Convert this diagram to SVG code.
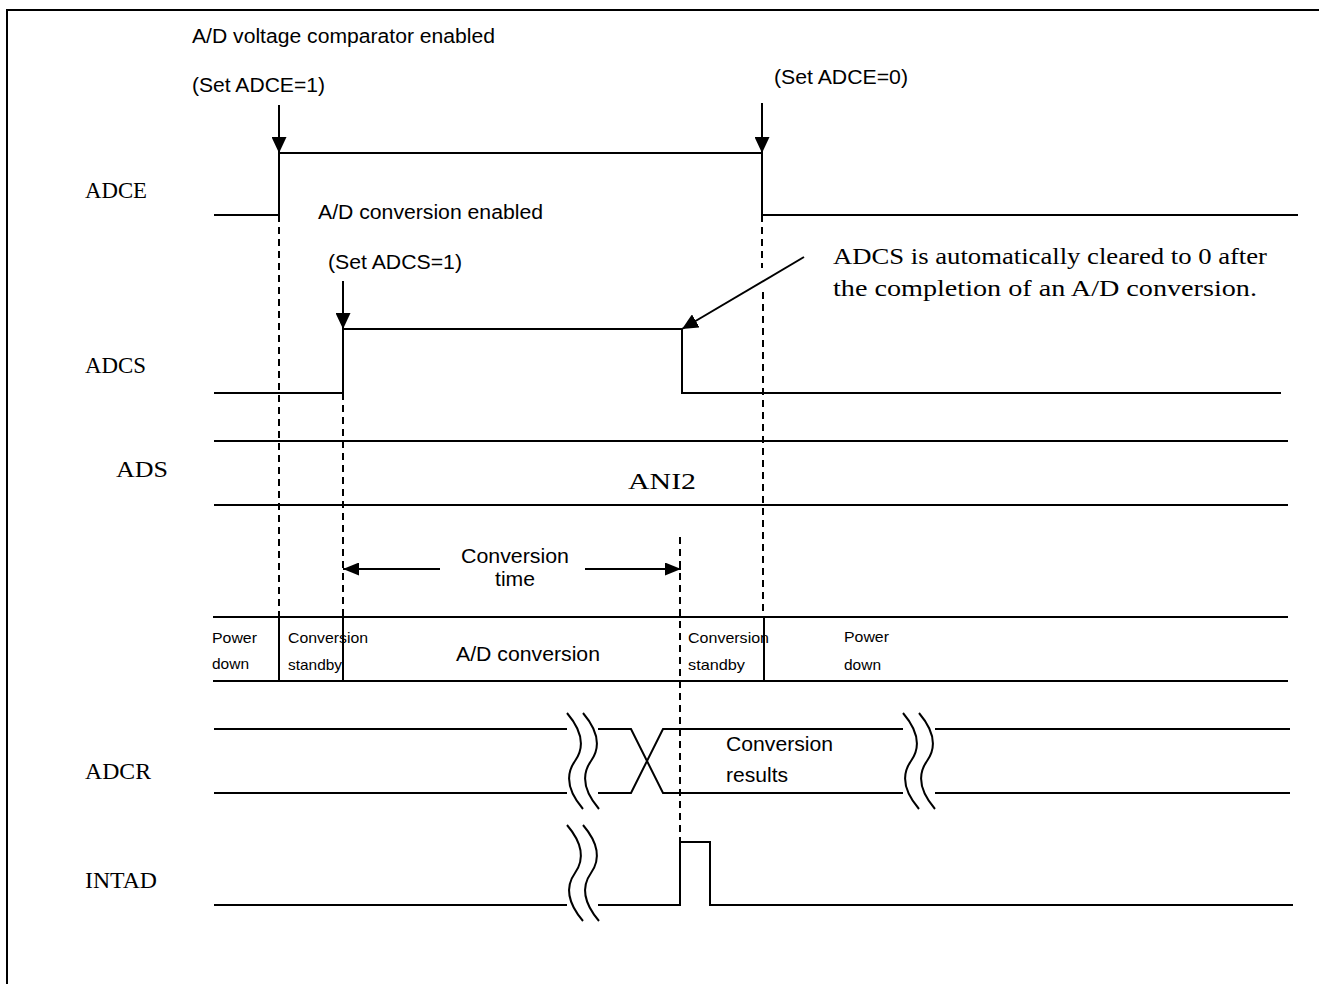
<svg xmlns="http://www.w3.org/2000/svg" width="1319" height="984" viewBox="0 0 1319 984">
<style>
.bg{fill:#fff}
.sig{fill:none;stroke:#000;stroke-width:2}
.dash{fill:none;stroke:#000;stroke-width:2;stroke-dasharray:7,5}
.arr{fill:none;stroke:#000;stroke-width:2}
.sans{font-family:"Liberation Sans",Arial,sans-serif;fill:#000}
.serif{font-family:"Liberation Serif","Times New Roman",serif;fill:#000}
.t20{font-size:20px}
.t15{font-size:15px}
.t21{font-size:21px}
.s24{font-size:24px}
</style>
<defs>
<marker id="ah" markerUnits="userSpaceOnUse" markerWidth="16" markerHeight="15" refX="16" refY="7.5" orient="auto">
<path d="M0,0 L16,7.5 L0,15 z" fill="#000"/>
</marker>
<marker id="ah2" markerUnits="userSpaceOnUse" markerWidth="16" markerHeight="13" refX="16" refY="6.5" orient="auto">
<path d="M0,0 L16,6.5 L0,13 z" fill="#000"/>
</marker>
</defs>
<rect class="bg" x="0" y="0" width="1319" height="984"/>
<path class="sig" d="M7,990 V10 H1325"/>

<g id="labels">
<text class="serif s24" x="85" y="198" textLength="62" lengthAdjust="spacingAndGlyphs">ADCE</text>
<text class="serif s24" x="85" y="373" textLength="61" lengthAdjust="spacingAndGlyphs">ADCS</text>
<text class="serif s24" x="116" y="477" textLength="52" lengthAdjust="spacingAndGlyphs">ADS</text>
<text class="serif s24" x="85" y="779" textLength="66" lengthAdjust="spacingAndGlyphs">ADCR</text>
<text class="serif s24" x="85" y="888" textLength="72" lengthAdjust="spacingAndGlyphs">INTAD</text>
</g>

<g id="node-adce">
<path class="sig" d="M214,215 H279 V153 H762 V215 H1298"/>
<text class="sans t20" x="192" y="43" textLength="303" lengthAdjust="spacingAndGlyphs">A/D voltage comparator enabled</text>
<text class="sans t20" x="192" y="92" textLength="133" lengthAdjust="spacingAndGlyphs">(Set ADCE=1)</text>
<text class="sans t20" x="774" y="84" textLength="134" lengthAdjust="spacingAndGlyphs">(Set ADCE=0)</text>
</g>

<g id="node-adcs">
<path class="sig" d="M214,393 H343 V329 H682 V393 H1281"/>
<text class="sans t20" x="318" y="219" textLength="225" lengthAdjust="spacingAndGlyphs">A/D conversion enabled</text>
<text class="sans t20" x="328" y="269" textLength="134" lengthAdjust="spacingAndGlyphs">(Set ADCS=1)</text>
<text class="serif s24" x="833" y="264" textLength="434" lengthAdjust="spacingAndGlyphs">ADCS is automatically cleared to 0 after</text>
<text class="serif s24" x="833" y="296" textLength="424" lengthAdjust="spacingAndGlyphs">the completion of an A/D conversion.</text>
</g>

<g id="node-ads">
<path class="sig" d="M214,441 H1288 M214,505 H1288"/>
<text class="serif s24" x="628" y="489" textLength="68" lengthAdjust="spacingAndGlyphs">ANI2</text>
</g>

<g id="node-state">
<path class="sig" d="M213,617 H1288 M213,681 H1288 M279,617 V681 M343,617 V681 M764,617 V681"/>
<text class="sans t15" x="212" y="643" textLength="45" lengthAdjust="spacingAndGlyphs">Power</text>
<text class="sans t15" x="212" y="669" textLength="37" lengthAdjust="spacingAndGlyphs">down</text>
<text class="sans t15" x="288" y="643" textLength="80" lengthAdjust="spacingAndGlyphs">Conversion</text>
<text class="sans t15" x="288" y="670" textLength="54" lengthAdjust="spacingAndGlyphs">standby</text>
<text class="sans t21" x="456" y="661" textLength="144" lengthAdjust="spacingAndGlyphs">A/D conversion</text>
<text class="sans t15" x="688" y="643" textLength="81" lengthAdjust="spacingAndGlyphs">Conversion</text>
<text class="sans t15" x="688" y="670" textLength="57" lengthAdjust="spacingAndGlyphs">standby</text>
<text class="sans t15" x="844" y="642" textLength="45" lengthAdjust="spacingAndGlyphs">Power</text>
<text class="sans t15" x="844" y="670" textLength="37" lengthAdjust="spacingAndGlyphs">down</text>
</g>

<g id="node-conv-time">
<text class="sans t20" x="461" y="563" textLength="108" lengthAdjust="spacingAndGlyphs">Conversion</text>
<text class="sans t20" x="495" y="586" textLength="40" lengthAdjust="spacingAndGlyphs">time</text>
</g>

<g id="node-adcr">
<path class="sig" d="M214,729 H567 M214,793 H567 M598,729 H631 L663,793 H903 M598,793 H631 L663,729 H903 M935,729 H1290 M935,793 H1290"/>
<path class="sig" d="M567,713 Q590,740 575,761 Q560,782 583,809 M583,713 Q606,740 591,761 Q576,782 599,809"/>
<path class="sig" d="M903,713 Q926,740 911,761 Q896,782 919,809 M919,713 Q942,740 927,761 Q912,782 935,809"/>
<text class="sans t20" x="726" y="751" textLength="107" lengthAdjust="spacingAndGlyphs">Conversion</text>
<text class="sans t20" x="726" y="782" textLength="62" lengthAdjust="spacingAndGlyphs">results</text>
</g>

<g id="node-intad">
<path class="sig" d="M214,905 H567 M598,905 H680 V842 H710 V905 H1293"/>
<path class="sig" d="M567,825 Q590,852 575,873 Q560,894 583,921 M583,825 Q606,852 591,873 Q576,894 599,921"/>
</g>

<g id="connectors">
<line class="arr" x1="279" y1="105" x2="279" y2="153" marker-end="url(#ah)"/>
<line class="arr" x1="762" y1="103" x2="762" y2="153" marker-end="url(#ah)"/>
<line class="arr" x1="343" y1="281" x2="343" y2="329" marker-end="url(#ah)"/>
<line class="arr" x1="804" y1="257" x2="682" y2="329" marker-end="url(#ah)"/>
<line class="arr" x1="440" y1="569" x2="343" y2="569" marker-end="url(#ah2)"/>
<line class="arr" x1="585" y1="569" x2="681" y2="569" marker-end="url(#ah2)"/>
<line class="dash" x1="279" y1="215" x2="279" y2="617"/>
<line class="dash" x1="343" y1="393" x2="343" y2="617"/>
<line class="dash" x1="762" y1="215" x2="762" y2="268"/>
<line class="dash" x1="763" y1="292" x2="763" y2="617"/>
<line class="dash" x1="680" y1="537" x2="680" y2="852"/>
</g>
</svg>
